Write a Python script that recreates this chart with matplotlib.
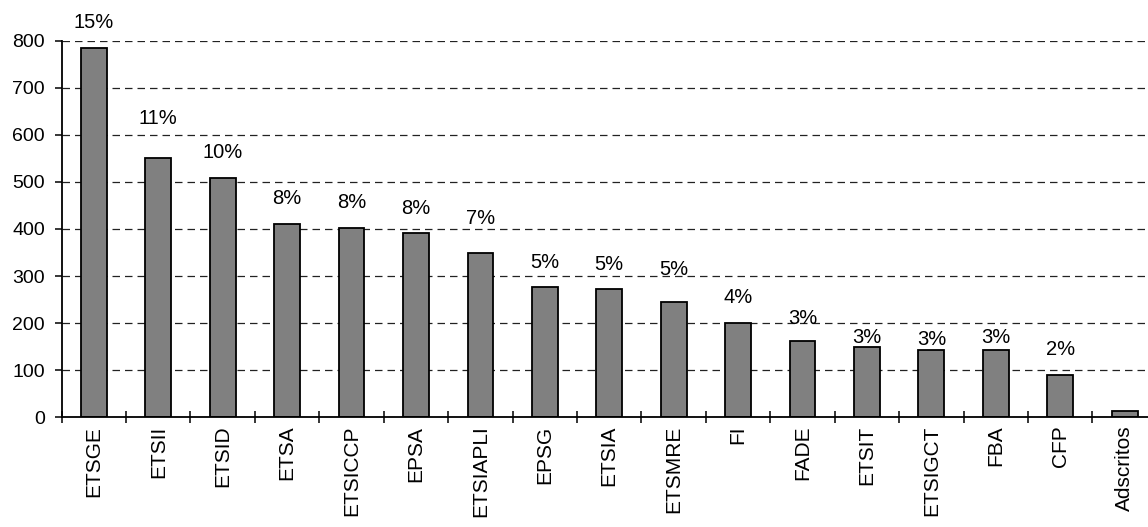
import matplotlib
matplotlib.use("Agg")
import matplotlib.pyplot as plt
import numpy as np

categories = ["ETSGE", "ETSII", "ETSID", "ETSA", "ETSICCP", "EPSA", "ETSIAPLI",
              "EPSG", "ETSIA", "ETSMRE", "FI", "FADE", "ETSIT", "ETSIGCT", "FBA",
              "CFP", "Adscritos"]
values = [784, 551, 509, 411, 403, 391, 348, 276, 272, 246, 200, 163, 149, 144, 144, 89, 13]
pct_labels = ["15%", "11%", "10%", "8%", "8%", "8%", "7%", "5%", "5%", "5%", "4%",
              "3%", "3%", "3%", "3%", "2%", ""]
yticks = [0, 100, 200, 300, 400, 500, 600, 700, 800]

# label offsets above bar tops (pixels)
label_offsets = [20, 34, 19.5, 19.5, 19.5, 19.5, 29.5, 19, 19, 27, 20, 16.5, 4, 4.5, 6.5, 20, 0]

plt.rcParams['font.family'] = ['Liberation Sans', 'DejaVu Sans']

fig = plt.figure(figsize=(11.48, 5.27), dpi=100)
ax = fig.add_axes([0.0537, 0.208, 0.954, 0.715])

x = np.arange(len(categories))
ax.bar(x, values, width=0.40, color="#808080", edgecolor="black", linewidth=1.3, zorder=3)

ax.set_xlim(-0.5, len(categories) - 0.5)
ax.set_ylim(0, 800)
ax.set_yticks(yticks)
ax.set_yticklabels([str(v) for v in yticks], fontsize=14)
ax.yaxis.grid(True, color="#222222", linewidth=0.9, linestyle=(0, (6, 4)), zorder=1)
ax.set_axisbelow(True)

ax.set_xticks(np.arange(len(categories) + 1) - 0.5)
ax.set_xticklabels([])
ax.set_xticks(x, minor=True)
ax.set_xticklabels(categories, minor=True, rotation=90, fontsize=15)
ax.tick_params(axis='x', which='major', direction='inout', length=9, width=1.1)
ax.tick_params(axis='x', which='minor', length=0, pad=6)
ax.tick_params(axis='y', direction='out', length=5, width=1.1, pad=7)

for s in ['top', 'right']:
    ax.spines[s].set_visible(False)
for s in ['left', 'bottom']:
    ax.spines[s].set_linewidth(1.3)
    ax.spines[s].set_zorder(4)

for xi, v, lab, off in zip(x, values, pct_labels, label_offsets):
    if lab:
        ax.annotate(lab, (xi, v), xytext=(0, off), textcoords='offset pixels',
                    ha='center', va='baseline', fontsize=14.5, zorder=5, clip_on=False)

fig.savefig("out.png", dpi=100)
